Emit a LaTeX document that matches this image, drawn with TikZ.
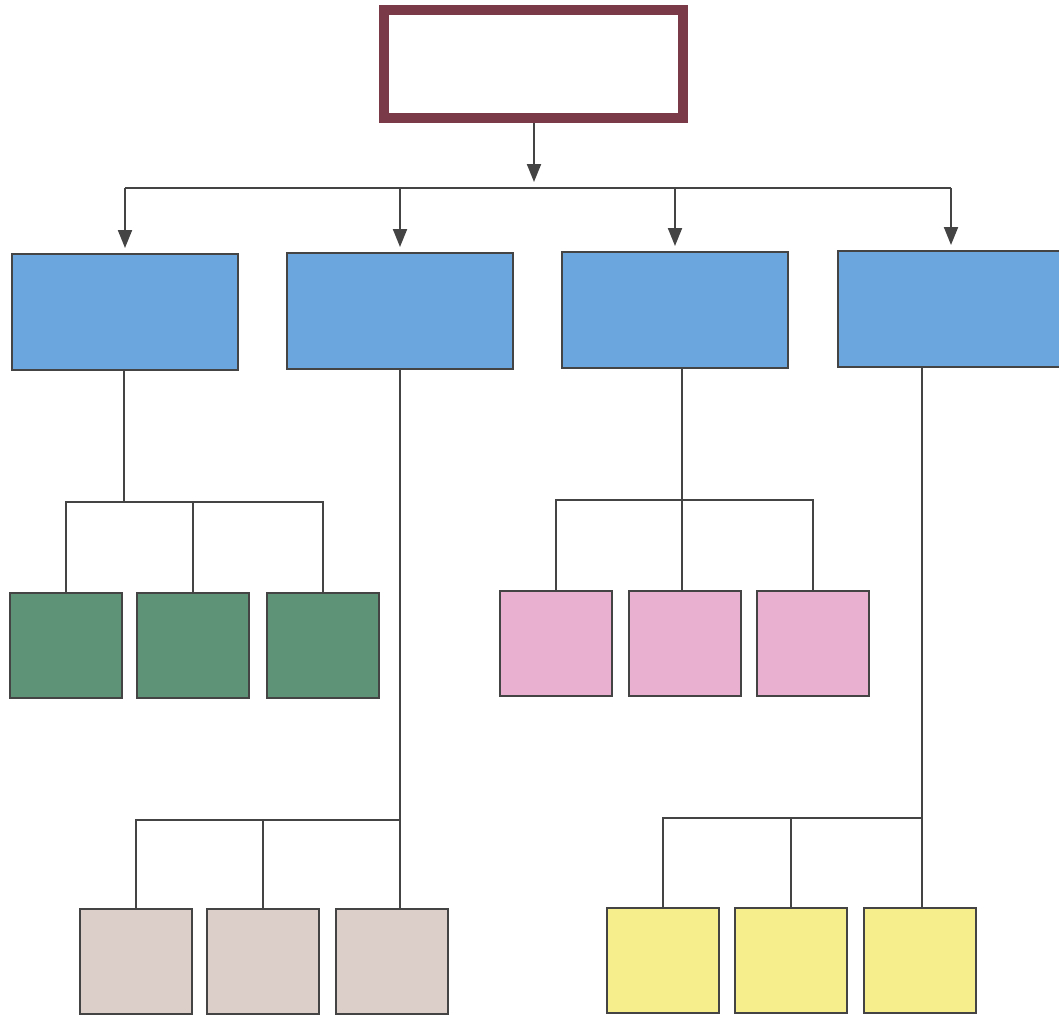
\documentclass[tikz,border=0pt]{standalone}
\usetikzlibrary{arrows.meta}
\definecolor{maroon}{HTML}{7B3A48}
\definecolor{bluef}{HTML}{6CA6DE}
\definecolor{greenf}{HTML}{5F9378}
\definecolor{pinkf}{HTML}{E9B0CF}
\definecolor{tanf}{HTML}{DCCEC9}
\definecolor{yellowf}{HTML}{F6EE8C}
\definecolor{linec}{HTML}{444444}
\begin{document}
\begin{tikzpicture}[x=1pt,y=-1pt,
  box/.style={draw=linec, line width=2pt, anchor=north west, inner sep=0pt},
  bluebox/.style={box, fill=bluef, minimum width=226pt, minimum height=116pt},
  smallbox/.style={box, minimum width=112pt, minimum height=105pt},
  conn/.style={draw=linec, line width=2pt},
  arr/.style={conn, -{Triangle[width=14pt,length=18pt]}, shorten >=5pt}]
\useasboundingbox (0,0) rectangle (1059,1017);
\fill[white] (0,0) rectangle (1059,1017);
% top box
\node[draw=maroon, line width=10pt, fill=white, minimum width=299pt, minimum height=108pt, anchor=north west, inner sep=0pt] (top) at (379,5) {};
% blue boxes
\node[bluebox] (b1) at (11,253) {};
\node[bluebox] (b2) at (286,252) {};
\node[bluebox] (b3) at (561,251) {};
\node[bluebox] (b4) at (837,250) {};
% green
\node[smallbox, fill=greenf] (g1) at (9,592) {};
\node[smallbox, fill=greenf] (g2) at (136,592) {};
\node[smallbox, fill=greenf] (g3) at (266,592) {};
% pink
\node[smallbox, fill=pinkf] (p1) at (499,590) {};
\node[smallbox, fill=pinkf] (p2) at (628,590) {};
\node[smallbox, fill=pinkf] (p3) at (756,590) {};
% tan
\node[smallbox, fill=tanf] (t1) at (79,908) {};
\node[smallbox, fill=tanf] (t2) at (206,908) {};
\node[smallbox, fill=tanf] (t3) at (335,908) {};
% yellow
\node[smallbox, fill=yellowf] (y1) at (606,907) {};
\node[smallbox, fill=yellowf] (y2) at (734,907) {};
\node[smallbox, fill=yellowf] (y3) at (863,907) {};
% top connectors
\coordinate (bus) at (534,188);
\draw[arr, shorten >=6pt] (top.south -| bus) -- (bus);
\draw[conn] (b1.north |- bus) -- (b4.north |- bus);
\foreach \b in {b1,b2,b3,b4} \draw[arr] (\b.north |- bus) -- (\b.north);
% branch 1
\coordinate (j1) at (124,502);
\draw[conn] (b1.south -| j1) -- (j1);
\draw[conn] (g1.north) |- (j1);
\draw[conn] (g3.north) |- (j1);
\draw[conn] (g2.north) -- (g2.north |- j1);
% branch 2
\coordinate (j2) at (400,820);
\draw[conn] (b2.south -| j2) -- (j2 |- t3.north);
\draw[conn] (t1.north) |- (j2);
\draw[conn] (t2.north) -- (t2.north |- j2);
% branch 3
\coordinate (j3) at (682,500);
\draw[conn] (b3.south -| j3) -- (j3 |- p2.north);
\draw[conn] (p1.north) |- (j3);
\draw[conn] (p3.north) |- (j3);
% branch 4
\coordinate (j4) at (922,818);
\draw[conn] (b4.south -| j4) -- (j4 |- y3.north);
\draw[conn] (y1.north) |- (j4);
\draw[conn] (y2.north) -- (y2.north |- j4);
\end{tikzpicture}
\end{document}
